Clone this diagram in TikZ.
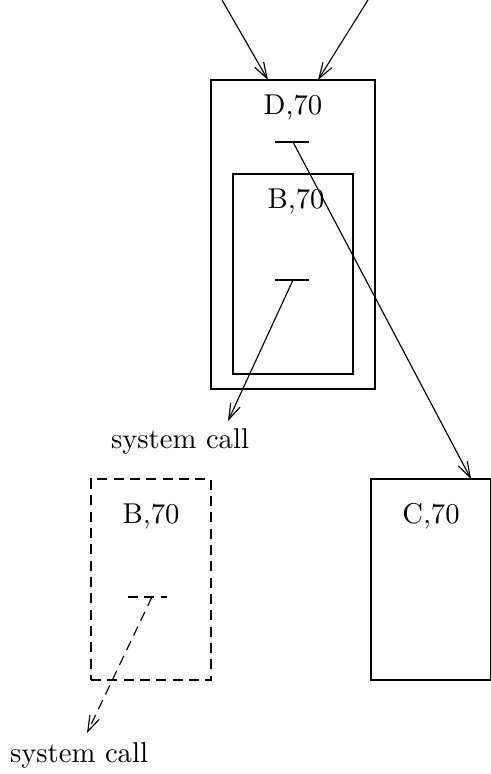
\documentclass[tikz,border=0pt]{standalone}
\usepackage{tikz}
\usetikzlibrary{arrows.meta}
\tikzset{
	box/.style={draw, minimum width=#1, inner sep=0pt},
	dbox/.style={draw, dash pattern=on 3.5pt off 2.2pt, inner sep=0pt},
	call/.style={-{Straight Barb[length=5.5pt,width=3.6pt]}},
	dcall/.style={call, dash pattern=on 3.5pt off 2.2pt}
}

\begin{document}
\begin{tikzpicture}[x=0.349pt, y=-0.349pt, every node/.style={align=center}]
  \useasboundingbox (0,0) rectangle (491,774);
  \clip (0,0) rectangle (491,774);
  % Boxes
  \node[box=164*0.349pt, minimum height=309*0.349pt] (D)  at (293, 234.5) {};
  \node[box=120*0.349pt, minimum height=200*0.349pt] (B)  at (293, 274)   {};
  \node[dbox, minimum width=120*0.349pt, minimum height=201*0.349pt] (Bc) at (151, 579.5) {};
  \node[box=120*0.349pt, minimum height=201*0.349pt] (C)  at (431, 579.5) {};

  % Labels
  \node (Dl)  at (293, 107) {D,70};
  \node (Bl)  at (296, 201) {B,70};
  \node (Bcl) at (151, 516) {B,70};
  \node (Cl)  at (431, 516) {C,70};
  \node (sysA) at (180, 441) {system call};
  \node (sysB) at (79, 755)  {system call};

  % Bars
  \coordinate (dbarL) at (275, 142); \coordinate (dbarR) at (309, 142);
  \coordinate (bbarL) at (275, 280); \coordinate (bbarR) at (309, 280);
  \coordinate (cbarL) at (128, 597); \coordinate (cbarR) at (167, 597);
  \coordinate (dbar) at (293, 142);
  \coordinate (bbar) at (293, 280);
  \coordinate (cbar) at (152, 597);
  \draw (dbarL) -- (dbarR);
  \draw (bbarL) -- (bbarR);
  \draw[dash pattern=on 3.5pt off 2.2pt] (cbarL) -- (cbarR);

  % Arrows
  \coordinate (inA) at (222, 0);   \coordinate (inAend) at (268, 80);
  \coordinate (inB) at (368, 0);   \coordinate (inBend) at (318, 80);
  \coordinate (callA) at (228, 421);
  \coordinate (callB) at (87, 733);
  \coordinate (Cin) at (471, 479);
  \draw[call] (inA) -- (inAend);
  \draw[call] (inB) -- (inBend);
  \draw[call] (dbar) -- (Cin);
  \draw[call] (bbar) -- (callA);
  \draw[dcall] (cbar) -- (callB);
\end{tikzpicture}
\end{document}
